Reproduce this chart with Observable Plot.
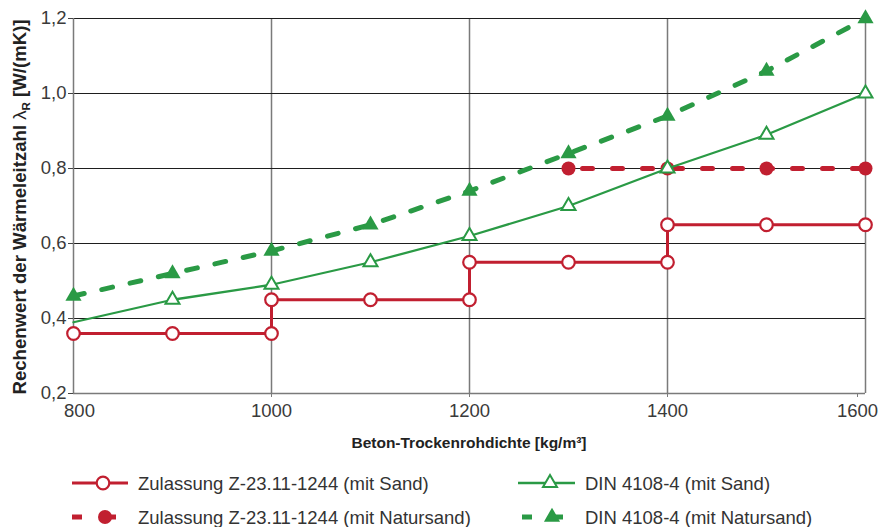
<!DOCTYPE html>
<html>
<head>
<meta charset="utf-8">
<script src="https://cdn.jsdelivr.net/npm/d3@7"></script>
<script src="https://cdn.jsdelivr.net/npm/@observablehq/plot@0.6"></script>
<style>
  body { margin: 0; background: #fff; }
  #wrap { width: 880px; height: 527px; position: relative; font-family: "Liberation Sans", Arial, sans-serif; }
</style>
</head>
<body>
<div id="wrap"></div>
<script>
// ---- data ----
const xTicks = [800, 1000, 1200, 1400, 1600];
const yTicks = [0.2, 0.4, 0.6, 0.8, 1.0, 1.2];

// Zulassung Z-23.11-1244 (mit Sand) – step line
const zSandX = [800, 900, 1000, 1000, 1100, 1200, 1200, 1300, 1400, 1400, 1500, 1600];
const zSandY = [0.36, 0.36, 0.36, 0.45, 0.45, 0.45, 0.55, 0.55, 0.55, 0.65, 0.65, 0.65];

// Zulassung Z-23.11-1244 (mit Natursand)
const zNatX = [1300, 1400, 1500, 1600];
const zNatY = [0.80, 0.80, 0.80, 0.80];

// DIN 4108-4 (mit Sand)
const dinSandX = [800, 900, 1000, 1100, 1200, 1300, 1400, 1500, 1600];
const dinSandY = [0.39, 0.45, 0.49, 0.55, 0.62, 0.70, 0.80, 0.89, 1.00];

// DIN 4108-4 (mit Natursand)
const dinNatX = [800, 900, 1000, 1100, 1200, 1300, 1400, 1500, 1600];
const dinNatY = [0.46, 0.52, 0.58, 0.65, 0.74, 0.84, 0.94, 1.06, 1.20];

const legendLabels = [
  "Zulassung Z-23.11-1244 (mit Sand)",
  "Zulassung Z-23.11-1244 (mit Natursand)",
  "DIN 4108-4 (mit Sand)",
  "DIN 4108-4 (mit Natursand)"
];
const xTitle = "Beton-Trockenrohdichte [kg/m³]";

// ---- build ----
const RED = "#c11f30";
const GREEN = "#2a9a45";
const zip = (xs, ys) => xs.map((x, i) => ({x, y: ys[i]}));
const zSand = zip(zSandX, zSandY);
const zNat = zip(zNatX, zNatY);
const dinSand = zip(dinSandX, dinSandY);
const dinNat = zip(dinNatX, dinNatY);
const fmtY = d => d.toFixed(1).replace(".", ",");
const fmtX = d => String(d);

const chart = Plot.plot({
  width: 880,
  height: 460,
  marginTop: 18,
  marginLeft: 73,
  marginRight: 15,
  marginBottom: 67,
  style: {fontFamily: "Liberation Sans, Arial, sans-serif", fontSize: "18.5px", color: "#3a3a3a", background: "white", overflow: "visible"},
  x: {domain: [800, 1600], label: null},
  y: {domain: [0.2, 1.2], label: null},
  marks: [
    Plot.gridX(xTicks.filter(d => d > 800), {stroke: "#7a7a7a", strokeOpacity: 1, strokeWidth: 1.5}),
    Plot.gridY(yTicks.filter(d => d > 0.2), {stroke: "#1e1e1e", strokeOpacity: 1, strokeWidth: 1.1}),
    Plot.ruleX([800], {stroke: "#7a7a7a", strokeWidth: 1.5}),
    Plot.ruleY([0.2], {stroke: "#7a7a7a", strokeWidth: 1.5}),
    Plot.axisY({ticks: yTicks, tickSize: 5, tickPadding: 2, tickFormat: fmtY, label: null, stroke: "#444"}),
    Plot.axisX({ticks: [1000, 1200, 1400], tickSize: 4, tickPadding: 6, tickFormat: fmtX, label: null, stroke: "#7a7a7a"}),
    Plot.axisX({ticks: [800], tickSize: 0, tickPadding: 10, dx: 6, tickFormat: fmtX, label: null}),
    Plot.axisX({ticks: [1600], tickSize: 4, tickPadding: 6, dx: -8, tickFormat: fmtX, label: null, stroke: "#7a7a7a"}),
    // DIN mit Natursand (dashed, filled triangles)
    Plot.line(dinNat, {x: "x", y: "y", stroke: GREEN, strokeWidth: 5, strokeDasharray: "11,18"}),
    // Zulassung mit Natursand (dashed, filled circles)
    Plot.line(zNat, {x: "x", y: "y", stroke: RED, strokeWidth: 5, strokeDasharray: "10,20", strokeDashoffset: -14}),
    Plot.dot(zNat, {x: "x", y: "y", r: 7, fill: RED, stroke: "none"}),
    // Zulassung mit Sand (step, open circles)
    Plot.line(zSand, {x: "x", y: "y", stroke: RED, strokeWidth: 3}),
    Plot.dot(zSand, {x: "x", y: "y", r: 6.3, fill: "white", stroke: RED, strokeWidth: 2.2}),
    // DIN mit Sand (solid, open triangles)
    Plot.line(dinSand, {x: "x", y: "y", stroke: GREEN, strokeWidth: 2.3}),
    Plot.dot(dinSand.filter(d => d.x > 800), {x: "x", y: "y", symbol: "triangle", r: 5.2, fill: "white", stroke: GREEN, strokeWidth: 2}),
    Plot.dot(dinNat, {x: "x", y: "y", symbol: "triangle", r: 6, fill: GREEN, stroke: "none"})
  ]
});

const svg = d3.select(chart);
// y-axis title with subscript
const yt = svg.append("text")
  .attr("transform", "translate(26,207) rotate(-90)")
  .attr("text-anchor", "middle")
  .attr("font-weight", "bold")
  .attr("font-size", 18.6)
  .attr("fill", "#222");
yt.append("tspan").text("Rechenwert der Wärmeleitzahl ");
yt.append("tspan").attr("font-weight", "normal").text("λ");
yt.append("tspan").attr("font-size", 11.5).attr("dy", 4).text("R");
yt.append("tspan").attr("dy", -4).text(" [W/(mK)]");
// x-axis title
svg.append("text")
  .attr("x", 469).attr("y", 448)
  .attr("text-anchor", "middle")
  .attr("font-weight", "bold")
  .attr("font-size", 15.5)
  .attr("fill", "#222")
  .text(xTitle);

const wrap = document.getElementById("wrap");
wrap.appendChild(chart);

// legend (below the chart)
const lg = d3.select(wrap).append("svg")
  .attr("width", 880).attr("height", 67)
  .style("display", "block")
  .style("font-family", "Liberation Sans, Arial, sans-serif");
const rows = [
  {x0: 72, x1: 128, cx: 103, y: 23, color: RED, kind: "openCircle", tx: 138, label: legendLabels[0]},
  {x0: 72, x1: 116, cx: 105, y: 57, color: RED, kind: "filledCircle", tx: 138, label: legendLabels[1]},
  {x0: 518, x1: 575, cx: 550, y: 23, color: GREEN, kind: "openTri", tx: 585, label: legendLabels[2]},
  {x0: 522, x1: 563, cx: 552, y: 57, color: GREEN, kind: "filledTri", tx: 585, label: legendLabels[3]}
];
const tri = d3.symbol(d3.symbolTriangle);
for (const r of rows) {
  if (r.kind === "openCircle" || r.kind === "openTri") {
    lg.append("line").attr("x1", r.x0).attr("x2", r.x1).attr("y1", r.y).attr("y2", r.y)
      .attr("stroke", r.color).attr("stroke-width", r.kind === "openCircle" ? 3 : 2.5);
  } else {
    lg.append("line").attr("x1", r.x0).attr("x2", r.x0 + 10).attr("y1", r.y).attr("y2", r.y)
      .attr("stroke", r.color).attr("stroke-width", 5);
    lg.append("line").attr("x1", r.cx).attr("x2", r.x1).attr("y1", r.y).attr("y2", r.y)
      .attr("stroke", r.color).attr("stroke-width", 5);
  }
  if (r.kind === "openCircle") {
    lg.append("circle").attr("cx", r.cx).attr("cy", r.y).attr("r", 6.3).attr("fill", "white").attr("stroke", r.color).attr("stroke-width", 2.2);
  } else if (r.kind === "filledCircle") {
    lg.append("circle").attr("cx", r.cx).attr("cy", r.y).attr("r", 7).attr("fill", r.color);
  } else if (r.kind === "openTri") {
    lg.append("path").attr("d", tri.size(5.2 * 5.2 * Math.PI)()).attr("transform", `translate(${r.cx},${r.y})`)
      .attr("fill", "white").attr("stroke", r.color).attr("stroke-width", 2);
  } else {
    lg.append("path").attr("d", tri.size(6 * 6 * Math.PI)()).attr("transform", `translate(${r.cx},${r.y})`)
      .attr("fill", r.color);
  }
  lg.append("text").attr("x", r.tx).attr("y", r.y + 6.5).attr("font-size", 18.5).attr("fill", "#333").text(r.label);
}
</script>
</body>
</html>
